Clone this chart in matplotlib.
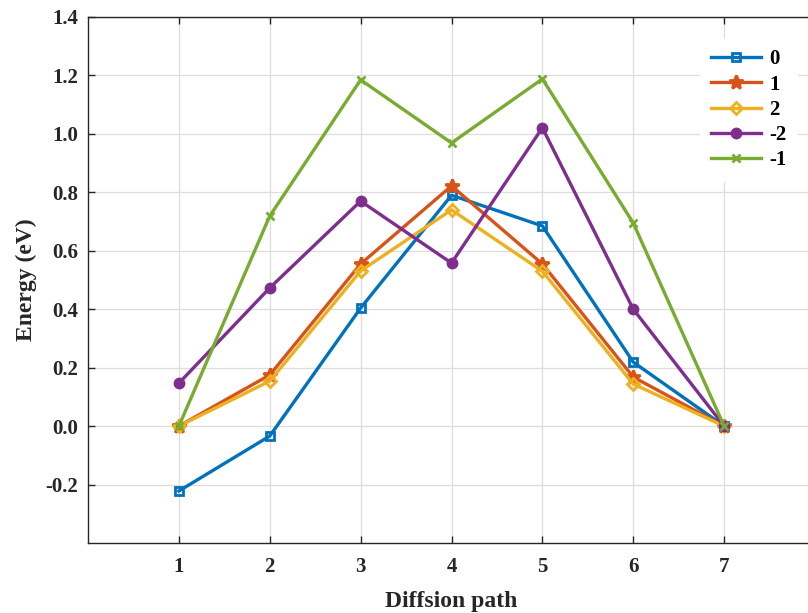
import matplotlib
matplotlib.use("Agg")
import matplotlib.pyplot as plt

path = [1, 2, 3, 4, 5, 6, 7]
labels = ["0", "1", "2", "-2", "-1"]
e0 = [-0.222, -0.034, 0.404, 0.790, 0.685, 0.219, 0.0]
e1 = [0.0, 0.175, 0.555, 0.822, 0.555, 0.168, 0.0]
e2 = [0.0, 0.154, 0.531, 0.740, 0.530, 0.144, 0.0]
em2 = [0.147, 0.473, 0.770, 0.558, 1.021, 0.400, 0.0]
em1 = [0.0, 0.719, 1.185, 0.969, 1.188, 0.695, 0.0]
yticks = [-0.2, 0.0, 0.2, 0.4, 0.6, 0.8, 1.0, 1.2, 1.4]
ytick_labels = ["-0.2", "0.0", "0.2", "0.4", "0.6", "0.8", "1.0", "1.2", "1.4"]

plt.rcParams['font.family'] = ['Liberation Serif', 'DejaVu Serif']
plt.rcParams['font.weight'] = 'bold'

fig = plt.figure(figsize=(8.08, 6.13), dpi=100)
W, H = 808, 613
ax = fig.add_axes([88 / W, (H - 543) / H, (815 - 88) / W, (543 - 17) / H])

series = [e0, e1, e2, em2, em1]
colors = ["#0072BD", "#D95319", "#EDB120", "#7E2F8E", "#77AC30"]
markers = ["s", "*", "D", "o", "x"]
msizes = [6, 10, 6.5, 6.5, 5.5]
faces = ["none", "#D95319", "none", "#7E2F8E", "none"]

for s, c, m, ms, fc, lab in zip(series, colors, markers, msizes, faces, labels):
    ax.plot(path, s, color=c, marker=m, markersize=ms, markerfacecolor=fc,
            markeredgecolor=c, markeredgewidth=2.0, linewidth=2.4, label=lab)

ax.set_xlim(0, 8)
ax.set_ylim(-0.4, 1.4)
ax.set_xticks(path)
ax.set_yticks(yticks)
ax.set_yticklabels(ytick_labels)
ax.grid(True, color="#dddddd", linewidth=0.9)
ax.set_axisbelow(True)
ax.tick_params(direction="in", length=5, width=1, labelsize=15, colors="#262626",
               top=True, right=True, pad=7)
ax.tick_params(axis="x", pad=10)
for lab in ax.get_xticklabels() + ax.get_yticklabels():
    lab.set_fontweight("bold")
for sp in ax.spines.values():
    sp.set_color("#262626")
    sp.set_linewidth(1.0)

ax.set_xlabel("Diffsion path", fontsize=17, fontweight="bold", color="#262626", labelpad=10)
ax.set_ylabel("Energy (eV)", fontsize=17, fontweight="bold", color="#262626", labelpad=6)

leg = ax.legend(loc="upper left", bbox_to_anchor=(0.828, 0.978), frameon=True,
                prop={"size": 15, "weight": "bold"}, handlelength=2.4,
                labelspacing=0.25, borderpad=0.5, handletextpad=0.4)
leg.get_frame().set_facecolor("white")
leg.get_frame().set_edgecolor("white")
leg.get_frame().set_alpha(1.0)

fig.savefig("out.png", dpi=100)
